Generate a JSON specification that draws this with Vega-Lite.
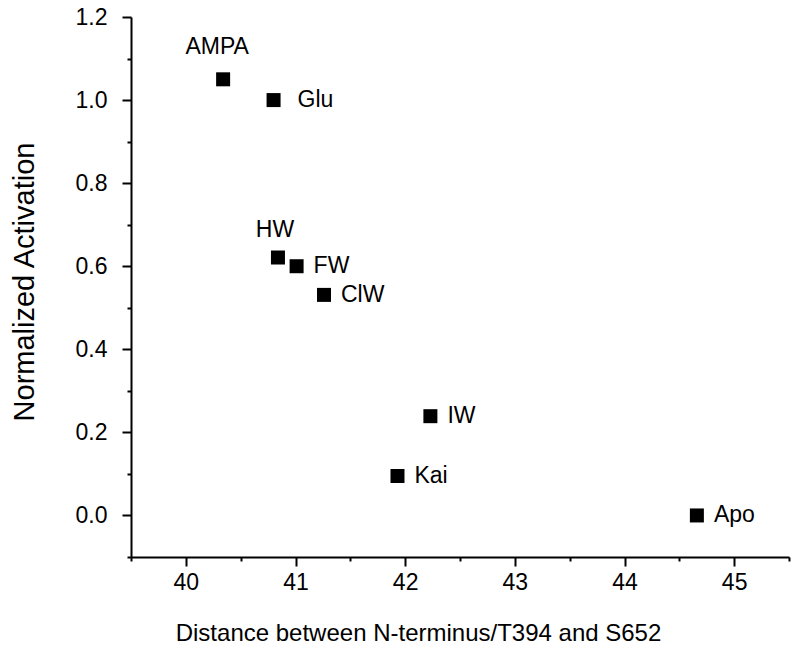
{
  "$schema": "https://vega.github.io/schema/vega-lite/v6.json",
  "width": 658,
  "height": 540,
  "autosize": {"type": "none"},
  "padding": {"left": 131, "top": 17, "right": 11, "bottom": 111},
  "background": "white",
  "config": {
    "view": {"stroke": null},
    "font": "Liberation Sans",
    "axis": {
      "domainColor": "black",
      "domainWidth": 2,
      "tickColor": "black",
      "tickWidth": 2,
      "labelColor": "black",
      "titleColor": "black",
      "labelFont": "Liberation Sans",
      "titleFont": "Liberation Sans",
      "titleFontWeight": "normal",
      "grid": false
    }
  },
  "data": {
    "values": [
      {"label": "AMPA", "distance": 40.34, "activation": 1.05},
      {"label": "Glu", "distance": 40.80, "activation": 1.0},
      {"label": "HW", "distance": 40.84, "activation": 0.621},
      {"label": "FW", "distance": 41.01, "activation": 0.60},
      {"label": "ClW", "distance": 41.26, "activation": 0.531},
      {"label": "IW", "distance": 42.23, "activation": 0.239},
      {"label": "Kai", "distance": 41.93, "activation": 0.095},
      {"label": "Apo", "distance": 44.66, "activation": 0.0}
    ]
  },
  "encoding": {
    "x": {
      "field": "distance",
      "type": "quantitative",
      "scale": {"domain": [39.5, 45.5], "nice": false, "zero": false},
      "axis": {
        "title": "Distance between N-terminus/T394 and S652",
        "values": [39.5, 40, 40.5, 41, 41.5, 42, 42.5, 43, 43.5, 44, 44.5, 45, 45.5],
        "labelExpr": "datum.value % 1 === 0 ? format(datum.value, 'd') : ''",
        "tickSize": {"condition": {"test": "datum.value % 1 === 0", "value": 9}, "value": 4},
        "labelPadding": 5,
        "labelFontSize": 23,
        "labelFlush": false,
        "labelOverlap": false,
        "titleFontSize": 24,
        "titleX": 287,
        "titleY": 83,
        "titleBaseline": "alphabetic",
        "titleAnchor": "middle"
      }
    },
    "y": {
      "field": "activation",
      "type": "quantitative",
      "scale": {"domain": [-0.1, 1.2], "nice": false, "zero": false},
      "axis": {
        "title": "Normalized Activation",
        "values": [-0.1, 0, 0.1, 0.2, 0.3, 0.4, 0.5, 0.6, 0.7, 0.8, 0.9, 1.0, 1.1, 1.2],
        "labelExpr": "abs(datum.value * 5 - round(datum.value * 5)) < 0.001 ? format(datum.value, '.1f') : ''",
        "tickSize": {"condition": {"test": "abs(datum.value * 5 - round(datum.value * 5)) < 0.001", "value": 9}, "value": 4},
        "labelPadding": 15,
        "labelFontSize": 23,
        "labelFlush": false,
        "labelOverlap": false,
        "titleFontSize": 29,
        "titleX": -98,
        "titleY": 264.5,
        "titleBaseline": "alphabetic",
        "titleAnchor": "middle"
      }
    }
  },
  "layer": [
    {
      "mark": {"type": "point", "shape": "square", "size": 196, "filled": true, "color": "black", "opacity": 1}
    },
    {
      "transform": [{"filter": "datum.label !== 'AMPA' && datum.label !== 'HW' && datum.label !== 'Glu'"}],
      "mark": {"type": "text", "align": "left", "baseline": "middle", "dx": 17, "fontSize": 23, "color": "black"},
      "encoding": {"text": {"field": "label"}}
    },
    {
      "transform": [{"filter": "datum.label === 'Glu'"}],
      "mark": {"type": "text", "align": "left", "baseline": "middle", "dx": 24, "fontSize": 23, "color": "black"},
      "encoding": {"text": {"field": "label"}}
    },
    {
      "transform": [{"filter": "datum.label === 'AMPA'"}],
      "mark": {"type": "text", "align": "center", "baseline": "middle", "dx": -6, "dy": -32, "fontSize": 23, "color": "black"},
      "encoding": {"text": {"field": "label"}}
    },
    {
      "transform": [{"filter": "datum.label === 'HW'"}],
      "mark": {"type": "text", "align": "center", "baseline": "middle", "dx": -3, "dy": -28, "fontSize": 23, "color": "black"},
      "encoding": {"text": {"field": "label"}}
    }
  ]
}
